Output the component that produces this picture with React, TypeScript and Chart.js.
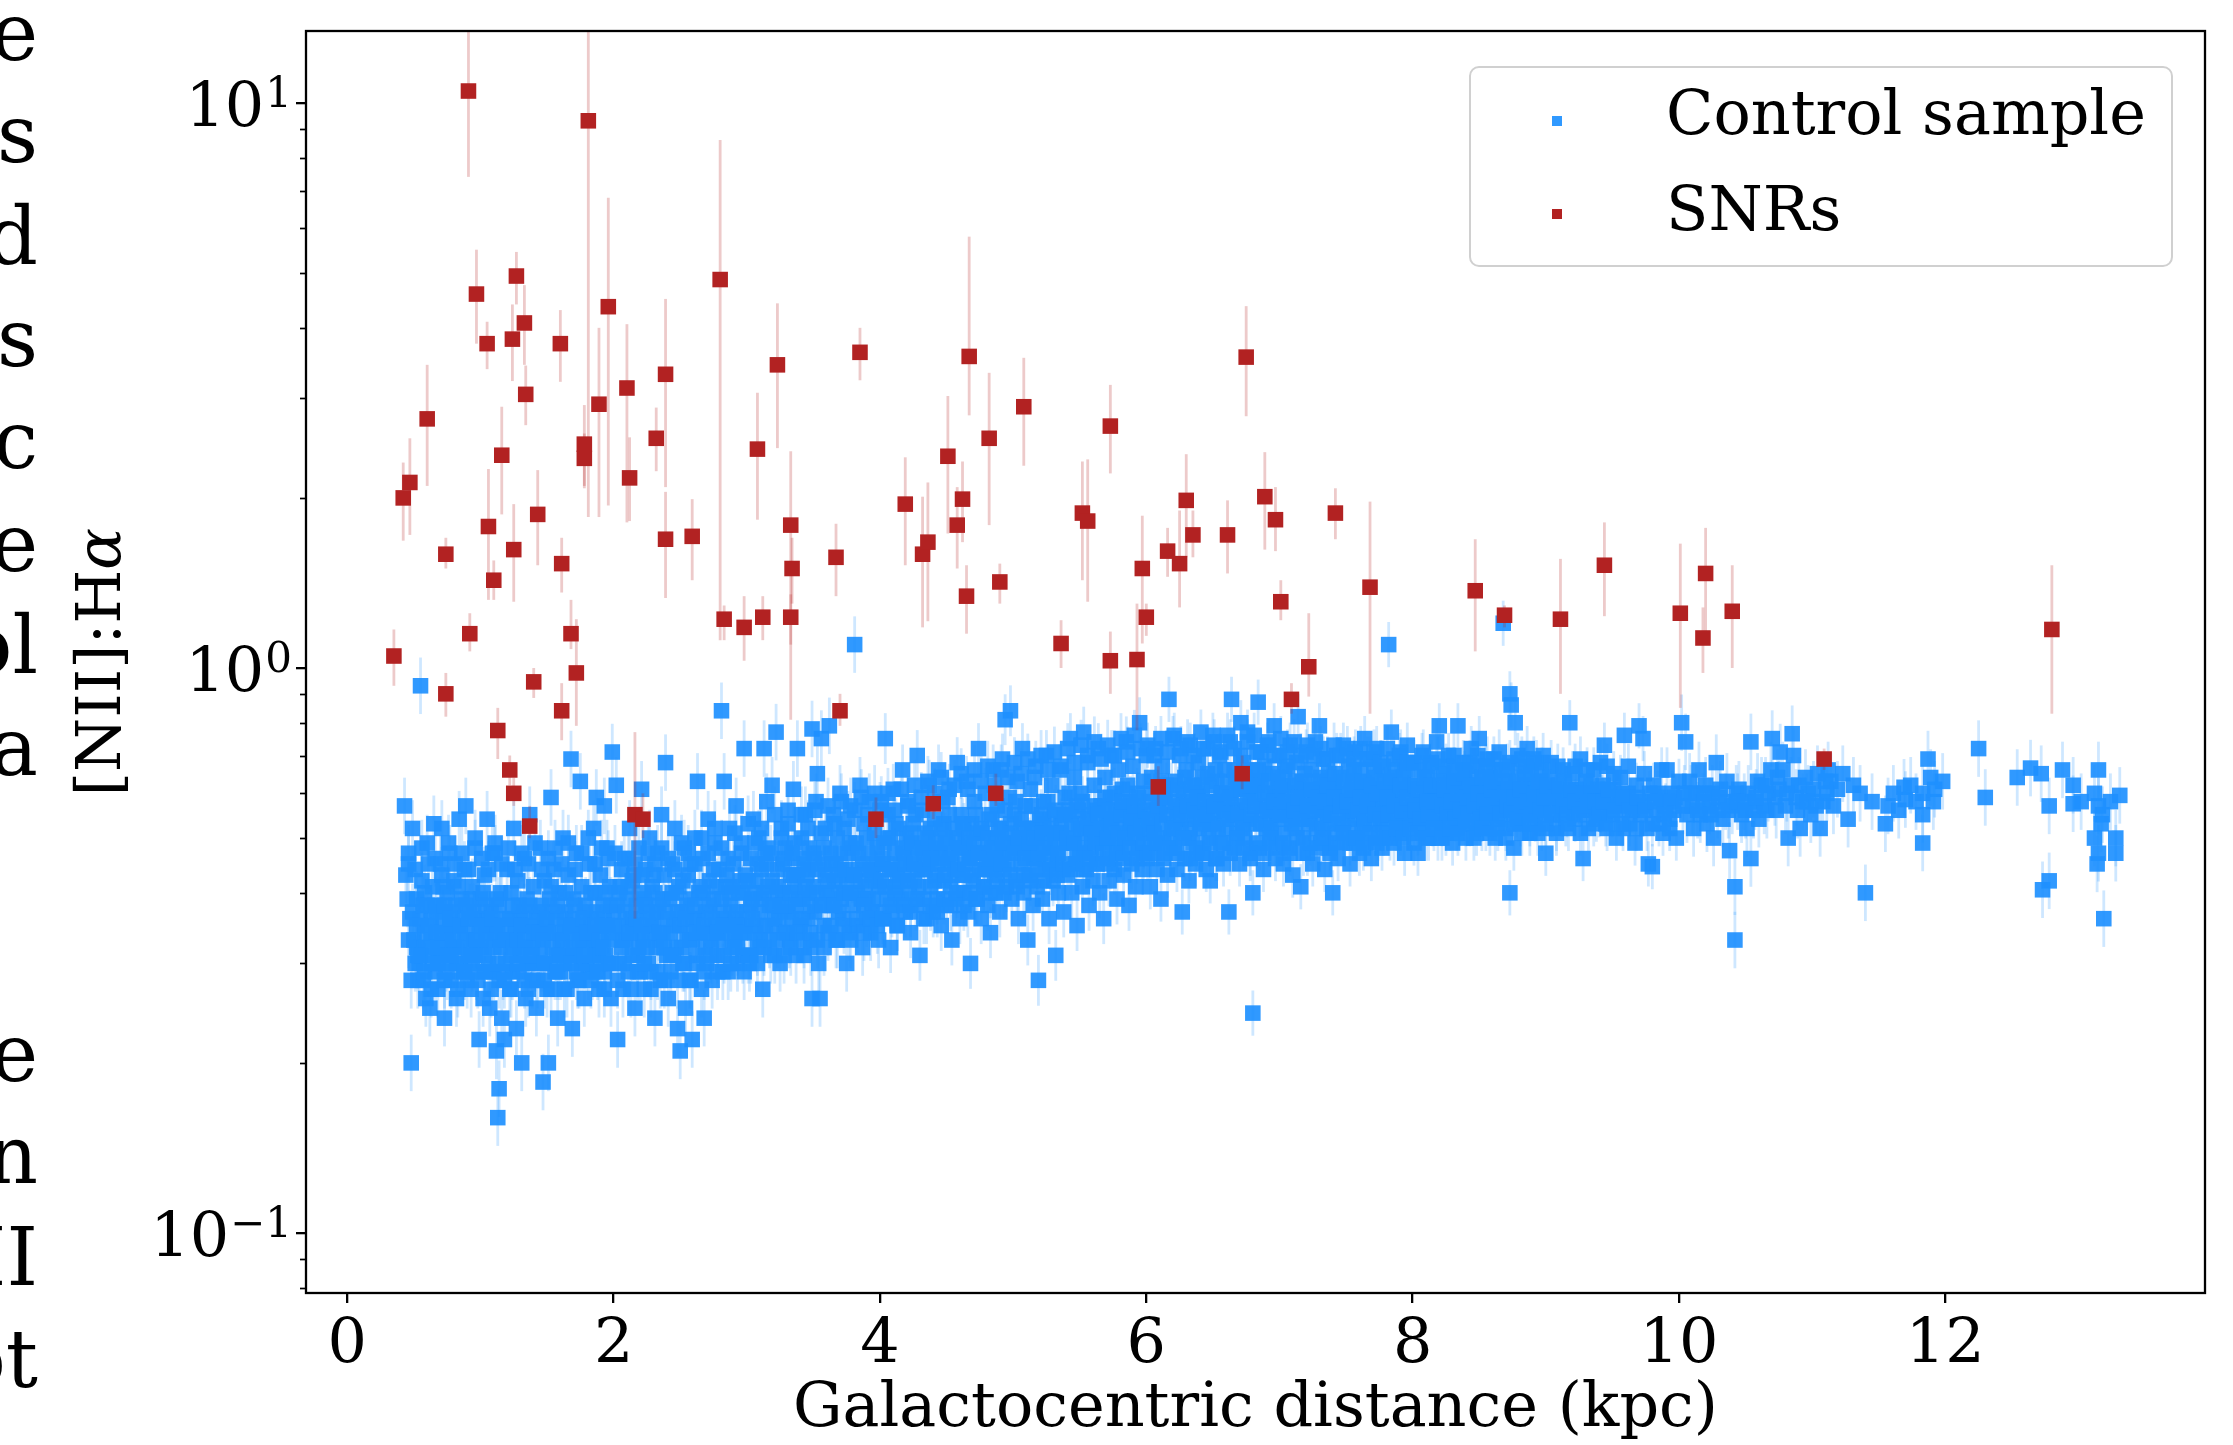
import React, { useEffect, useRef } from "react";
import { Chart, registerables } from "chart.js";
Chart.register(...registerables);

const FONT = "'DejaVu Serif', serif";

// axes
const X_MIN = -0.31;
const X_MAX = 13.95;
const Y_MIN = 0.0783;
const Y_MAX = 13.41;
const xTickValues = [0, 2, 4, 6, 8, 10, 12];
const yTickValues = [0.1, 1, 10];
const yTickExponents = ["−1", "0", "1"];
const yMinorValues = [0.08, 0.09, 0.2, 0.3, 0.4, 0.5, 0.6, 0.7, 0.8, 0.9, 2, 3, 4, 5, 6, 7, 8, 9];
const xTitle = "Galactocentric distance (kpc)";
const yTitleMain = "[NII]:H";
const yTitleGreek = "α";
const legendLabels = ["Control sample", "SNRs"];

// cropped page text at the left edge
const pageLines = ["where", "SNRs", "and", "regions", "Galactic", "the", "control", "data", "", "", "see", "in", "NII", "plot"];

// SNRs
const snrX = [0.35,0.42,0.47,0.60,0.74,0.74,0.91,0.92,0.97,1.05,1.06,1.10,1.13,1.16,1.22,1.24,1.25,1.25,1.27,1.33,1.34,1.37,1.40,1.43,1.60,1.61,1.61,1.68,1.72,1.78,1.78,1.81,1.89,1.96,2.10,2.12,2.16,2.22,2.32,2.39,2.39,2.59,2.80,2.83,2.98,3.08,3.12,3.23,3.33,3.34,3.33,3.67,3.70,3.85,3.97,4.19,4.32,4.36,4.40,4.51,4.58,4.62,4.65,4.67,4.82,4.87,4.90,5.08,5.36,5.52,5.56,5.73,5.73,5.93,5.97,6.00,6.09,6.16,6.25,6.30,6.35,6.61,6.72,6.75,6.89,6.97,7.01,7.09,7.22,7.42,7.68,8.47,8.69,9.11,9.44,10.01,10.18,10.20,10.40,11.09,12.80];
const snrY = [1.05,2.00,2.13,2.76,1.59,0.90,10.5,1.15,4.59,3.75,1.78,1.43,0.775,2.38,0.66,3.82,1.62,0.60,4.94,4.08,3.05,0.525,0.945,1.87,3.75,1.53,0.84,1.15,0.98,2.49,2.35,9.3,2.93,4.36,3.13,2.17,0.55,0.54,2.55,3.31,1.69,1.71,4.87,1.22,1.18,2.44,1.23,3.44,1.79,1.50,1.23,1.57,0.84,3.62,0.54,1.95,1.59,1.67,0.575,2.37,1.79,1.99,1.34,3.56,2.55,0.60,1.42,2.90,1.105,1.88,1.82,2.68,1.03,1.035,1.50,1.23,0.616,1.61,1.53,1.98,1.72,1.72,0.65,3.55,2.01,1.83,1.31,0.88,1.005,1.88,1.39,1.37,1.24,1.22,1.52,1.25,1.13,1.47,1.26,0.69,1.17];
const snrLo = [0.93,1.68,1.72,2.10,1.50,0.82,7.4,1.07,3.75,3.38,1.32,1.32,0.69,1.87,0.62,3.22,1.31,0.57,4.4,3.44,2.69,0.50,0.885,1.52,3.21,1.36,0.745,1.08,0.79,2.08,2.1,1.85,1.85,1.94,1.81,1.82,0.36,0.50,2.23,2.09,1.33,1.43,1.12,1.12,1.03,1.83,1.12,2.45,0.81,1.30,1.10,1.34,0.79,3.23,0.50,1.52,1.18,1.21,0.54,1.73,1.50,1.67,1.15,2.8,1.79,0.57,1.30,2.28,1.0,1.43,1.31,2.21,0.90,0.776,1.105,1.14,0.57,1.45,1.28,1.57,1.57,1.47,0.61,2.79,1.62,1.61,1.215,0.83,0.89,1.69,0.83,1.07,1.18,0.90,1.235,0.85,0.98,1.15,1.0,0.66,0.83];
const snrHi = [1.17,2.31,2.55,3.44,1.70,0.98,16,1.25,5.5,4.1,2.25,1.55,0.85,2.9,0.70,4.4,1.95,0.64,5.45,4.76,3.43,0.57,1.0,2.24,4.3,1.70,0.94,1.32,1.22,2.92,2.6,16,4.0,6.8,4.06,2.56,0.77,0.60,2.89,4.5,2.05,1.99,8.6,1.29,1.34,3.07,1.34,4.42,2.42,1.70,1.35,1.80,0.90,4.0,0.59,2.36,2.01,2.13,0.62,3.03,2.09,2.32,1.52,5.8,3.33,0.65,1.53,3.54,1.215,2.32,2.34,3.17,1.16,1.30,1.86,1.30,0.67,1.77,1.90,2.39,1.90,1.98,0.70,4.37,2.41,2.09,1.43,0.94,1.25,2.08,1.97,1.69,1.29,1.56,1.81,1.66,1.28,1.77,1.52,0.72,1.52];

// Control sample, [distance, ratio]
const ctrlA = [[0.43,0.57],[0.44,0.43],[0.45,0.39],[0.46,0.45],[0.47,0.36],[0.48,0.20],[0.49,0.52],[0.50,0.33],[0.51,0.30],[0.52,0.39],[0.52,0.32],[0.53,0.28],[0.55,0.93],[0.55,0.36],[0.56,0.42],[0.57,0.28],[0.58,0.34],[0.59,0.26],[0.60,0.49],[0.60,0.38],
[0.62,0.25],[0.62,0.31],[0.63,0.36],[0.64,0.41],[0.65,0.53],[0.66,0.29],[0.67,0.34],[0.68,0.27],[0.69,0.38],[0.70,0.45],[0.70,0.32],[0.71,0.52],[0.72,0.36],[0.73,0.24],[0.74,0.30],[0.75,0.40],[0.76,0.34],[0.77,0.47],[0.78,0.28],[0.79,0.37],[0.80,0.32],[0.80,0.42],
[0.82,0.26],[0.83,0.35],[0.84,0.54],[0.85,0.30],[0.86,0.39],[0.87,0.29],[0.88,0.44],[0.89,0.57],[0.90,0.34],[0.91,0.31],[0.92,0.37],[0.93,0.27],[0.94,0.41],[0.95,0.33],[0.96,0.48],[0.97,0.29],[0.98,0.36],[0.99,0.22],[1.00,0.32],[1.00,0.39],
[1.02,0.26],[1.03,0.43],[1.04,0.34],[1.05,0.54],[1.06,0.30],[1.07,0.25],[1.08,0.37],[1.09,0.47],[1.10,0.32],[1.11,0.49],[1.12,0.21],[1.13,0.16],[1.13,0.35],[1.14,0.18],[1.14,0.28],[1.15,0.40],[1.16,0.24],[1.17,0.33],[1.18,0.22],[1.19,0.30],[1.20,0.44],[1.20,0.36],
[1.22,0.27],[1.23,0.31],[1.24,0.38],[1.25,0.52],[1.26,0.34],[1.27,0.23],[1.28,0.42],[1.29,0.29],[1.30,0.36],[1.31,0.20],[1.32,0.32],[1.33,0.46],[1.34,0.26],[1.35,0.39],[1.36,0.30],[1.37,0.55],[1.38,0.35],[1.39,0.28],[1.40,0.41],
[1.42,0.25],[1.43,0.33],[1.44,0.37],[1.45,0.48],[1.46,0.30],[1.47,0.185],[1.48,0.42],[1.49,0.35],[1.50,0.27],[1.51,0.20],[1.52,0.39],[1.53,0.59],[1.54,0.32],[1.55,0.44],[1.56,0.29],[1.57,0.36],[1.58,0.24],[1.59,0.40],[1.60,0.33],
[1.62,0.50],[1.63,0.30],[1.64,0.37],[1.65,0.27],[1.66,0.43],[1.67,0.34],[1.68,0.69],[1.69,0.23],[1.70,0.39],[1.71,0.31],[1.72,0.47],[1.73,0.35],[1.74,0.28],[1.75,0.63],[1.76,0.41],[1.77,0.33],[1.78,0.26],[1.79,0.38],[1.80,0.30],
[1.81,0.33],[1.82,0.45],[1.83,0.36],[1.84,0.29],[1.85,0.52],[1.86,0.40],[1.87,0.59],[1.88,0.31],[1.89,0.27],[1.90,0.43],[1.91,0.35],[1.92,0.38],[1.93,0.57],[1.93,0.29],[1.94,0.31],[1.95,0.48],[1.96,0.34],[1.97,0.41],[1.98,0.26],[1.99,0.71],[2.00,0.37],
[0.55,0.31],[0.58,0.40],[0.63,0.33],[0.66,0.38],[0.69,0.31],[0.72,0.41],[0.75,0.29],[0.78,0.35],[0.81,0.38],[0.84,0.32],[0.87,0.36],[0.90,0.28],[0.93,0.39],[0.96,0.31],[0.99,0.35],[1.02,0.40],[1.05,0.36],[1.08,0.29],[1.11,0.34],[1.14,0.38],[1.17,0.29],[1.21,0.33],[1.24,0.29],[1.27,0.35],[1.30,0.31],[1.33,0.37],[1.36,0.27],[1.39,0.32],[1.42,0.36],[1.45,0.31],[1.48,0.28],[1.51,0.34],[1.54,0.37],[1.57,0.31],[1.60,0.29],[1.63,0.35],[1.66,0.31],[1.69,0.36],[1.72,0.29],[1.75,0.34],[1.78,0.37],[1.81,0.29],[1.84,0.34],[1.87,0.32],[1.90,0.30],[1.93,0.36],[1.96,0.30],[1.99,0.33]];
const ctrlA2 = [[0.46,0.33],[0.49,0.37],[0.52,0.35],[0.54,0.30],[0.57,0.38],[0.59,0.32],[0.61,0.35],[0.64,0.30],[0.67,0.37],[0.68,0.32],[0.71,0.34],[0.73,0.38],[0.76,0.31],[0.77,0.36],[0.79,0.33],[0.82,0.30],[0.83,0.41],[0.85,0.35],[0.88,0.33],[0.89,0.38],[0.91,0.36],[0.94,0.30],[0.95,0.37],[0.97,0.33],[1.01,0.35],[1.03,0.31],[1.04,0.38],[1.07,0.33],[1.09,0.36],[1.10,0.29],[1.12,0.39],[1.15,0.32],[1.16,0.35],[1.19,0.33],[1.22,0.36],[1.23,0.40],[1.25,0.32],[1.28,0.33],[1.29,0.38],[1.31,0.35],[1.34,0.33],[1.35,0.30],[1.37,0.38],[1.40,0.34],[1.41,0.30],[1.44,0.34],[1.46,0.38],[1.47,0.33],[1.50,0.36],[1.52,0.30],[1.53,0.41],[1.56,0.34],[1.58,0.38],[1.59,0.31],[1.62,0.33],[1.64,0.40],[1.65,0.31],[1.68,0.35],[1.70,0.32],[1.71,0.38],[1.74,0.33],[1.76,0.30],[1.77,0.36],[1.80,0.34],[1.82,0.31],[1.83,0.40],[1.86,0.35],[1.88,0.37],[1.89,0.33],[1.92,0.32],[1.94,0.40],[1.95,0.35],[1.98,0.38]];
const ctrlA3 = [[0.46,0.47],[0.48,0.28],[0.51,0.44],[0.53,0.31],[0.56,0.48],[0.58,0.29],[0.61,0.45],[0.63,0.27],[0.66,0.46],[0.68,0.30],[0.71,0.43],[0.73,0.28],[0.76,0.49],[0.78,0.31],[0.81,0.45],[0.83,0.27],[0.86,0.47],[0.88,0.29],[0.91,0.44],[0.93,0.31],[0.96,0.50],[0.98,0.28],[1.01,0.46],[1.03,0.29],[1.06,0.44],[1.08,0.27],[1.11,0.47],[1.13,0.30],[1.16,0.45],[1.18,0.28],[1.21,0.48],[1.23,0.27],[1.26,0.44],[1.28,0.30],[1.31,0.47],[1.33,0.28],[1.36,0.45],[1.38,0.31],[1.41,0.49],[1.43,0.28],[1.46,0.44],[1.48,0.30],[1.51,0.46],[1.53,0.27],[1.56,0.48],[1.58,0.29],[1.61,0.45],[1.63,0.27],[1.66,0.49],[1.68,0.30],[1.71,0.44],[1.73,0.28],[1.76,0.47],[1.78,0.31],[1.81,0.50],[1.83,0.28],[1.86,0.45],[1.88,0.29],[1.91,0.48],[1.93,0.27],[1.96,0.46],[1.98,0.30]];

const ctrlB = [[2.02,0.62],[2.03,0.22],[2.04,0.30],[2.05,0.41],[2.06,0.35],[2.07,0.27],[2.08,0.46],[2.09,0.33],[2.10,0.39],[2.11,0.29],[2.12,0.52],[2.13,0.36],[2.14,0.31],[2.15,0.43],[2.16,0.25],[2.17,0.38],[2.18,0.34],[2.19,0.48],[2.20,0.29],[2.20,0.40],
[2.21,0.61],[2.22,0.33],[2.23,0.27],[2.24,0.44],[2.25,0.37],[2.26,0.30],[2.27,0.50],[2.28,0.29],[2.29,0.41],[2.30,0.35],[2.31,0.24],[2.32,0.32],[2.33,0.47],[2.34,0.38],[2.35,0.28],[2.36,0.55],[2.37,0.34],[2.38,0.43],[2.39,0.68],[2.40,0.31],
[2.41,0.26],[2.42,0.39],[2.43,0.29],[2.44,0.45],[2.45,0.35],[2.46,0.52],[2.47,0.32],[2.48,0.23],[2.49,0.41],[2.50,0.21],[2.51,0.37],[2.52,0.30],[2.53,0.48],[2.54,0.25],[2.55,0.34],[2.56,0.43],[2.57,0.28],[2.58,0.39],[2.59,0.22],[2.60,0.36],
[2.61,0.50],[2.62,0.31],[2.63,0.63],[2.64,0.40],[2.65,0.34],[2.66,0.27],[2.67,0.46],[2.68,0.24],[2.69,0.37],[2.70,0.30],[2.71,0.54],[2.72,0.42],[2.73,0.33],[2.74,0.28],[2.75,0.39],[2.76,0.49],[2.77,0.35],[2.78,0.31],[2.79,0.44],[2.80,0.37],
[2.81,0.84],[2.82,0.29],[2.83,0.63],[2.84,0.41],[2.85,0.34],[2.86,0.29],[2.87,0.52],[2.88,0.38],[2.89,0.32],[2.90,0.45],[2.91,0.36],[2.92,0.57],[2.93,0.30],[2.94,0.40],[2.95,0.34],[2.96,0.49],[2.97,0.31],[2.98,0.72],[2.99,0.43],[3.00,0.37],
[3.01,0.31],[3.02,0.30],[3.03,0.46],[3.04,0.39],[3.05,0.54],[3.06,0.34],[3.07,0.42],[3.08,0.32],[3.09,0.50],[3.10,0.37],[3.11,0.44],[3.12,0.27],[3.13,0.72],[3.14,0.35],[3.15,0.58],[3.16,0.41],[3.17,0.33],[3.18,0.47],[3.19,0.62],[3.20,0.38],
[3.21,0.31],[3.22,0.77],[3.23,0.44],[3.24,0.36],[3.25,0.30],[3.26,0.52],[3.27,0.40],[3.28,0.34],[3.29,0.48],[3.30,0.38],[3.31,0.56],[3.32,0.33],[3.33,0.43],[3.34,0.36],[3.35,0.61],[3.36,0.41],[3.37,0.31],[3.38,0.72],[3.39,0.46],[3.40,0.35],
[3.41,0.50],[3.42,0.39],[3.43,0.33],[3.44,0.55],[3.45,0.43],[3.46,0.36],[3.47,0.48],[3.48,0.32],[3.49,0.78],[3.49,0.26],[3.50,0.41],[3.51,0.37],[3.52,0.58],[3.53,0.65],[3.54,0.30],[3.55,0.26],[3.56,0.75],[3.57,0.45],[3.58,0.35],[3.59,0.52],[3.60,0.40],
[3.61,0.34],[3.62,0.79],[3.63,0.47],[3.64,0.38],[3.65,0.55],[3.66,0.42],[3.67,0.33],[3.68,0.50],[3.69,0.37],[3.70,0.60],[3.71,0.44],[3.72,0.36],[3.73,0.52],[3.74,0.40],[3.75,0.30],[3.76,0.47],[3.77,0.34],[3.78,0.57],[3.79,0.43],[3.80,0.38],
[3.81,1.10],[3.82,0.49],[3.83,0.35],[3.84,0.44],[3.85,0.62],[3.86,0.39],[3.87,0.32],[3.88,0.53],[3.89,0.41],[3.90,0.36],[3.91,0.47],[3.92,0.58],[3.93,0.34],[3.94,0.43],[3.95,0.39],[3.96,0.51],[3.97,0.37],[3.98,0.45],[3.99,0.33],[4.00,0.56],
[2.03,0.38],[2.07,0.33],[2.11,0.41],[2.15,0.35],[2.19,0.32],[2.23,0.39],[2.27,0.34],[2.31,0.40],[2.35,0.33],[2.39,0.37],[2.43,0.34],[2.47,0.40],[2.51,0.32],[2.55,0.38],[2.59,0.33],[2.63,0.36],[2.67,0.40],[2.71,0.34],[2.75,0.44],[2.79,0.33],[2.83,0.36],[2.87,0.40],[2.91,0.33],[2.95,0.42],[2.99,0.35],[3.03,0.38],[3.07,0.35],[3.11,0.39],[3.15,0.45],[3.19,0.35],[3.23,0.40],[3.27,0.45],[3.31,0.37],[3.35,0.43],[3.39,0.39],[3.43,0.45],[3.47,0.40],[3.51,0.46],[3.55,0.38],[3.59,0.43],[3.63,0.40],[3.67,0.45],[3.71,0.39],[3.75,0.42],[3.79,0.48],[3.83,0.40],[3.87,0.45],[3.91,0.39],[3.95,0.44],[3.99,0.41]];
const ctrlB2 = [[2.01,0.35],[2.04,0.40],[2.06,0.32],[2.09,0.37],[2.12,0.34],[2.14,0.42],[2.17,0.36],[2.18,0.31],[2.21,0.35],[2.24,0.38],[2.25,0.32],[2.28,0.36],[2.30,0.43],[2.32,0.37],[2.34,0.34],[2.37,0.39],[2.38,0.32],[2.41,0.36],[2.44,0.40],[2.45,0.31],[2.48,0.37],[2.50,0.35],[2.52,0.42],[2.54,0.36],[2.57,0.33],[2.58,0.45],[2.61,0.38],[2.62,0.34],[2.65,0.41],[2.68,0.35],[2.69,0.32],[2.72,0.38],[2.74,0.36],[2.77,0.41],[2.78,0.34],[2.81,0.39],[2.82,0.35],[2.85,0.43],[2.88,0.35],[2.89,0.41],[2.92,0.37],[2.94,0.35],[2.97,0.40],[2.98,0.34],[3.01,0.42],[3.04,0.36],[3.06,0.40],[3.08,0.45],[3.10,0.33],[3.13,0.40],[3.14,0.47],[3.17,0.38],[3.19,0.42],[3.21,0.36],[3.24,0.41],[3.26,0.38],[3.28,0.46],[3.30,0.34],[3.33,0.40],[3.34,0.47],[3.37,0.38],[3.38,0.43],[3.41,0.36],[3.44,0.41],[3.46,0.44],[3.48,0.38],[3.50,0.47],[3.53,0.40],[3.54,0.44],[3.57,0.38],[3.58,0.48],[3.61,0.42],[3.64,0.45],[3.66,0.38],[3.68,0.43],[3.70,0.47],[3.73,0.40],[3.74,0.44],[3.77,0.49],[3.78,0.40],[3.81,0.43],[3.84,0.47],[3.86,0.42],[3.88,0.38],[3.90,0.50],[3.93,0.44],[3.94,0.37],[3.97,0.42],[3.98,0.48]];
const ctrlB3 = [[2.01,0.47],[2.03,0.28],[2.06,0.44],[2.08,0.30],[2.11,0.46],[2.13,0.27],[2.16,0.45],[2.18,0.29],[2.21,0.43],[2.23,0.30],[2.26,0.47],[2.28,0.27],[2.31,0.45],[2.33,0.29],[2.36,0.48],[2.38,0.28],[2.41,0.46],[2.43,0.31],[2.46,0.44],[2.48,0.28],[2.51,0.49],[2.53,0.30],[2.56,0.47],[2.58,0.28],[2.61,0.45],[2.63,0.30],[2.66,0.50],[2.68,0.29],[2.71,0.47],[2.73,0.31],[2.76,0.52],[2.78,0.29],[2.81,0.48],[2.83,0.31],[2.86,0.46],[2.88,0.30],[2.91,0.51],[2.93,0.32],[2.96,0.47],[2.98,0.29],[3.01,0.53],[3.03,0.31],[3.06,0.49],[3.08,0.30],[3.11,0.52],[3.13,0.32],[3.16,0.48],[3.18,0.31],[3.21,0.55],[3.23,0.33],[3.26,0.50],[3.28,0.31],[3.31,0.53],[3.33,0.32],[3.36,0.49],[3.38,0.34],[3.41,0.55],[3.43,0.31],[3.46,0.52],[3.48,0.34],[3.51,0.56],[3.53,0.33],[3.56,0.51],[3.58,0.32],[3.61,0.57],[3.63,0.35],[3.66,0.53],[3.68,0.33],[3.71,0.58],[3.73,0.35],[3.76,0.54],[3.78,0.33],[3.81,0.56],[3.83,0.36],[3.86,0.59],[3.88,0.34],[3.91,0.55],[3.93,0.36],[3.96,0.60],[3.98,0.35]];

const ctrlC = [[4.01,0.42],[4.02,0.36],[4.03,0.49],[4.04,0.75],[4.05,0.39],[4.06,0.55],[4.07,0.44],[4.08,0.32],[4.09,0.37],[4.10,0.61],[4.11,0.47],[4.12,0.41],[4.13,0.35],[4.14,0.52],[4.15,0.45],[4.16,0.39],[4.17,0.66],[4.18,0.43],[4.19,0.37],[4.20,0.50],
[4.21,0.58],[4.22,0.40],[4.23,0.34],[4.24,0.46],[4.25,0.53],[4.26,0.42],[4.27,0.38],[4.28,0.70],[4.29,0.48],[4.30,0.31],[4.31,0.44],[4.32,0.56],[4.33,0.39],[4.34,0.51],[4.35,0.36],[4.36,0.45],[4.37,0.62],[4.38,0.41],[4.39,0.48],[4.40,0.37],
[4.41,0.54],[4.42,0.43],[4.43,0.39],[4.44,0.66],[4.45,0.47],[4.46,0.35],[4.47,0.58],[4.48,0.42],[4.49,0.50],[4.50,0.38],[4.51,0.45],[4.52,0.61],[4.53,0.41],[4.54,0.33],[4.55,0.52],[4.56,0.44],[4.57,0.39],[4.58,0.68],[4.59,0.48],[4.60,0.36],
[4.61,0.55],[4.62,0.43],[4.63,0.40],[4.64,0.49],[4.65,0.63],[4.66,0.37],[4.67,0.46],[4.68,0.30],[4.69,0.53],[4.70,0.42],[4.71,0.58],[4.72,0.39],[4.73,0.47],[4.74,0.72],[4.75,0.44],[4.76,0.36],[4.77,0.51],[4.78,0.41],[4.79,0.60],[4.80,0.45],
[4.81,0.38],[4.82,0.54],[4.83,0.34],[4.84,0.48],[4.85,0.66],[4.86,0.43],[4.87,0.40],[4.88,0.57],[4.89,0.46],[4.90,0.37],[4.91,0.52],[4.92,0.69],[4.93,0.44],[4.94,0.81],[4.95,0.41],[4.96,0.49],[4.97,0.59],[4.98,0.84],[4.99,0.39],[5.00,0.47],
[5.01,0.55],[5.02,0.42],[5.03,0.63],[5.04,0.36],[5.05,0.50],[5.06,0.45],[5.07,0.72],[5.08,0.40],[5.09,0.57],[5.10,0.48],[5.11,0.33],[5.12,0.43],[5.13,0.61],[5.14,0.52],[5.15,0.38],[5.16,0.46],[5.17,0.67],[5.18,0.41],[5.19,0.28],[5.20,0.54],
[5.21,0.47],[5.22,0.39],[5.23,0.58],[5.24,0.44],[5.25,0.70],[5.26,0.51],[5.27,0.36],[5.28,0.48],[5.29,0.62],[5.30,0.42],[5.31,0.55],[5.32,0.31],[5.33,0.46],[5.34,0.40],[5.35,0.66],[5.36,0.53],[5.37,0.44],[5.38,0.37],[5.39,0.59],[5.40,0.49],
[5.41,0.43],[5.42,0.56],[5.43,0.75],[5.44,0.40],[5.45,0.50],[5.46,0.64],[5.47,0.45],[5.48,0.35],[5.49,0.53],[5.50,0.47],[5.51,0.60],[5.52,0.41],[5.53,0.77],[5.54,0.51],[5.55,0.44],[5.56,0.68],[5.57,0.38],[5.58,0.55],[5.59,0.48],[5.60,0.42],
[5.61,0.62],[5.62,0.52],[5.63,0.45],[5.64,0.72],[5.65,0.40],[5.66,0.57],[5.67,0.49],[5.68,0.36],[5.69,0.64],[5.70,0.54],[5.71,0.46],[5.72,0.42],[5.73,0.59],[5.74,0.70],[5.75,0.50],[5.76,0.44],[5.77,0.56],[5.78,0.39],[5.79,0.66],[5.80,0.52],
[5.81,0.47],[5.82,0.61],[5.83,0.43],[5.84,0.55],[5.85,0.74],[5.86,0.50],[5.87,0.38],[5.88,0.58],[5.89,0.45],[5.90,0.67],[5.91,0.52],[5.92,0.41],[5.93,0.60],[5.94,0.48],[5.95,0.80],[5.96,0.55],[5.97,0.44],[5.98,0.63],[5.99,0.51],[6.00,0.70],
[4.03,0.45],[4.08,0.50],[4.13,0.43],[4.18,0.47],[4.23,0.51],[4.28,0.44],[4.33,0.47],[4.38,0.52],[4.43,0.46],[4.48,0.53],[4.53,0.47],[4.58,0.43],[4.63,0.52],[4.68,0.46],[4.73,0.51],[4.78,0.47],[4.83,0.44],[4.88,0.50],[4.93,0.47],[4.98,0.53],[5.03,0.48],[5.08,0.52],[5.13,0.47],[5.18,0.50],[5.23,0.53],[5.28,0.45],[5.33,0.51],[5.38,0.55],[5.43,0.49],[5.48,0.57],[5.53,0.47],[5.58,0.52],[5.63,0.56],[5.68,0.50],[5.73,0.53],[5.78,0.48],[5.83,0.57],[5.88,0.52],[5.93,0.55],[5.98,0.47]];
const ctrlC2 = [[4.02,0.46],[4.04,0.41],[4.06,0.50],[4.09,0.44],[4.11,0.40],[4.12,0.53],[4.15,0.42],[4.17,0.48],[4.19,0.45],[4.21,0.42],[4.24,0.49],[4.26,0.45],[4.27,0.55],[4.29,0.41],[4.32,0.48],[4.34,0.44],[4.36,0.50],[4.38,0.46],[4.41,0.42],[4.42,0.49],[4.44,0.45],[4.46,0.52],[4.49,0.43],[4.51,0.49],[4.52,0.55],[4.54,0.46],[4.57,0.50],[4.59,0.44],[4.61,0.48],[4.62,0.53],[4.64,0.45],[4.67,0.50],[4.69,0.43],[4.71,0.49],[4.72,0.55],[4.74,0.47],[4.76,0.52],[4.79,0.44],[4.81,0.50],[4.82,0.46],[4.84,0.55],[4.86,0.48],[4.89,0.52],[4.91,0.45],[4.92,0.49],[4.94,0.56],[4.96,0.45],[4.99,0.51],[5.01,0.48],[5.02,0.58],[5.04,0.50],[5.06,0.54],[5.09,0.46],[5.11,0.52],[5.12,0.49],[5.14,0.57],[5.16,0.50],[5.19,0.46],[5.21,0.55],[5.22,0.51],[5.24,0.48],[5.26,0.58],[5.29,0.52],[5.31,0.49],[5.32,0.56],[5.34,0.47],[5.36,0.51],[5.39,0.55],[5.41,0.50],[5.42,0.60],[5.44,0.53],[5.46,0.49],[5.49,0.56],[5.51,0.52],[5.52,0.58],[5.54,0.48],[5.56,0.54],[5.59,0.51],[5.61,0.57],[5.62,0.49],[5.64,0.55],[5.66,0.52],[5.69,0.59],[5.71,0.50],[5.72,0.56],[5.74,0.53],[5.76,0.60],[5.79,0.51],[5.81,0.55],[5.82,0.58],[5.84,0.50],[5.86,0.62],[5.89,0.54],[5.91,0.57],[5.92,0.51],[5.94,0.59],[5.96,0.53],[5.99,0.56]];
const ctrlC3 = [[4.01,0.58],[4.03,0.36],[4.06,0.60],[4.08,0.38],[4.11,0.56],[4.13,0.35],[4.16,0.61],[4.18,0.38],[4.21,0.57],[4.23,0.37],[4.26,0.62],[4.28,0.39],[4.31,0.59],[4.33,0.36],[4.36,0.63],[4.38,0.38],[4.41,0.60],[4.43,0.37],[4.46,0.64],[4.48,0.39],[4.51,0.59],[4.53,0.38],[4.56,0.62],[4.58,0.40],[4.61,0.65],[4.63,0.38],[4.66,0.61],[4.68,0.40],[4.71,0.66],[4.73,0.39],[4.76,0.63],[4.78,0.41],[4.81,0.67],[4.83,0.40],[4.86,0.62],[4.88,0.42],[4.91,0.66],[4.93,0.40],[4.96,0.64],[4.98,0.43],[5.01,0.68],[5.03,0.41],[5.06,0.65],[5.08,0.43],[5.11,0.69],[5.13,0.42],[5.16,0.64],[5.18,0.44],[5.21,0.70],[5.23,0.42],[5.26,0.66],[5.28,0.44],[5.31,0.71],[5.33,0.43],[5.36,0.67],[5.38,0.45],[5.41,0.72],[5.43,0.44],[5.46,0.68],[5.48,0.46],[5.51,0.73],[5.53,0.44],[5.56,0.70],[5.58,0.46],[5.61,0.74],[5.63,0.45],[5.66,0.69],[5.68,0.47],[5.71,0.73],[5.73,0.45],[5.76,0.70],[5.78,0.47],[5.81,0.75],[5.83,0.46],[5.86,0.71],[5.88,0.48],[5.91,0.76],[5.93,0.46],[5.96,0.72],[5.98,0.49]];

const ctrlD = [[6.01,0.46],[6.02,0.58],[6.03,0.41],[6.04,0.64],[6.05,0.53],[6.06,0.49],[6.07,0.72],[6.08,0.44],[6.09,0.60],[6.10,0.55],[6.11,0.39],[6.12,0.67],[6.13,0.50],[6.14,0.47],[6.15,0.62],[6.16,0.43],[6.17,0.88],[6.18,0.57],[6.19,0.52],[6.20,0.75],
[6.21,0.48],[6.22,0.63],[6.23,0.44],[6.24,0.56],[6.25,0.70],[6.26,0.51],[6.27,0.37],[6.28,0.60],[6.29,0.46],[6.30,0.66],[6.31,0.54],[6.32,0.42],[6.33,0.73],[6.34,0.58],[6.35,0.49],[6.36,0.62],[6.37,0.45],[6.38,0.55],[6.39,0.68],[6.40,0.52],
[6.41,0.47],[6.42,0.61],[6.43,0.72],[6.44,0.54],[6.45,0.44],[6.46,0.65],[6.47,0.50],[6.48,0.42],[6.49,0.58],[6.50,0.76],[6.51,0.53],[6.52,0.46],[6.53,0.63],[6.54,0.56],[6.55,0.70],[6.56,0.49],[6.57,0.60],[6.58,0.45],[6.59,0.66],[6.60,0.52],
[6.61,0.58],[6.62,0.37],[6.63,0.74],[6.64,0.88],[6.65,0.55],[6.66,0.48],[6.67,0.64],[6.68,0.51],[6.69,0.61],[6.70,0.45],[6.71,0.80],[6.72,0.57],[6.73,0.68],[6.74,0.50],[6.75,0.62],[6.76,0.77],[6.77,0.54],[6.78,0.47],[6.79,0.66],[6.80,0.40],
[6.80,0.245],[6.81,0.59],[6.82,0.53],[6.83,0.71],[6.84,0.87],[6.85,0.48],[6.86,0.63],[6.87,0.56],[6.88,0.44],[6.89,0.67],[6.90,0.52],[6.91,0.60],[6.92,0.74],[6.93,0.49],[6.94,0.57],[6.95,0.65],[6.96,0.79],[6.97,0.46],[6.98,0.55],[6.99,0.61],[7.00,0.70],
[7.01,0.51],[7.02,0.58],[7.03,0.45],[7.04,0.66],[7.05,0.54],[7.06,0.62],[7.07,0.48],[7.08,0.73],[7.09,0.57],[7.10,0.43],[7.11,0.60],[7.12,0.52],[7.13,0.68],[7.14,0.82],[7.15,0.55],[7.16,0.41],[7.17,0.63],[7.18,0.50],[7.19,0.58],[7.20,0.71],
[7.21,0.47],[7.22,0.61],[7.23,0.54],[7.24,0.66],[7.25,0.45],[7.26,0.58],[7.27,0.74],[7.28,0.52],[7.29,0.63],[7.30,0.79],[7.31,0.49],[7.32,0.56],[7.33,0.69],[7.34,0.44],[7.35,0.60],[7.36,0.53],[7.37,0.65],[7.38,0.48],[7.39,0.57],[7.40,0.40],
[7.41,0.62],[7.42,0.51],[7.43,0.70],[7.44,0.46],[7.45,0.58],[7.46,0.64],[7.47,0.53],[7.48,0.73],[7.49,0.49],[7.50,0.60],[7.51,0.55],[7.52,0.67],[7.53,0.45],[7.54,0.57],[7.55,0.63],[7.56,0.50],[7.57,0.71],[7.58,0.54],[7.59,0.60],[7.60,0.47],
[7.61,0.66],[7.62,0.52],[7.63,0.58],[7.64,0.75],[7.65,0.49],[7.66,0.62],[7.67,0.55],[7.68,0.69],[7.69,0.46],[7.70,0.59],[7.71,0.53],[7.72,0.64],[7.73,0.72],[7.74,0.50],[7.75,0.57],[7.76,0.61],[7.77,0.48],[7.78,0.67],[7.79,0.55],[7.80,0.60],
[7.81,0.52],[7.82,1.10],[7.83,0.63],[7.84,0.77],[7.85,0.57],[7.86,0.49],[7.87,0.66],[7.88,0.54],[7.89,0.60],[7.90,0.70],[7.91,0.51],[7.92,0.58],[7.93,0.64],[7.94,0.47],[7.95,0.55],[7.96,0.73],[7.97,0.61],[7.98,0.53],[7.99,0.68],[8.00,0.57],
[6.03,0.52],[6.08,0.56],[6.13,0.59],[6.18,0.50],[6.23,0.54],[6.28,0.57],[6.33,0.52],[6.38,0.60],[6.43,0.56],[6.48,0.53],[6.53,0.58],[6.58,0.55],[6.63,0.60],[6.68,0.56],[6.73,0.53],[6.78,0.59],[6.83,0.62],[6.88,0.57],[6.93,0.54],[6.98,0.59],[7.03,0.62],[7.08,0.55],[7.13,0.58],[7.18,0.61],[7.23,0.57],[7.28,0.60],[7.33,0.55],[7.38,0.61],[7.43,0.57],[7.48,0.60],[7.53,0.56],[7.58,0.62],[7.63,0.55],[7.68,0.59],[7.73,0.56],[7.78,0.61],[7.83,0.58],[7.88,0.61],[7.93,0.56],[7.98,0.62]];
const ctrlD2 = [[6.02,0.54],[6.04,0.60],[6.06,0.51],[6.09,0.57],[6.11,0.63],[6.12,0.53],[6.14,0.59],[6.16,0.55],[6.19,0.62],[6.21,0.52],[6.22,0.58],[6.24,0.61],[6.26,0.55],[6.29,0.64],[6.31,0.57],[6.32,0.50],[6.34,0.62],[6.36,0.56],[6.39,0.59],[6.41,0.53],[6.42,0.64],[6.44,0.58],[6.46,0.55],[6.49,0.62],[6.51,0.57],[6.52,0.66],[6.54,0.52],[6.56,0.60],[6.59,0.56],[6.61,0.63],[6.62,0.54],[6.64,0.59],[6.66,0.66],[6.69,0.55],[6.71,0.61],[6.72,0.52],[6.74,0.64],[6.76,0.58],[6.79,0.55],[6.81,0.62],[6.82,0.57],[6.84,0.66],[6.86,0.53],[6.89,0.60],[6.91,0.56],[6.92,0.63],[6.94,0.52],[6.96,0.58],[6.99,0.64],[7.01,0.55],[7.02,0.61],[7.04,0.58],[7.06,0.67],[7.09,0.53],[7.11,0.56],[7.12,0.63],[7.14,0.59],[7.16,0.54],[7.19,0.65],[7.21,0.57],[7.22,0.53],[7.24,0.61],[7.26,0.56],[7.29,0.59],[7.31,0.64],[7.32,0.52],[7.34,0.58],[7.36,0.62],[7.39,0.55],[7.41,0.59],[7.42,0.65],[7.44,0.54],[7.46,0.57],[7.49,0.63],[7.51,0.58],[7.52,0.52],[7.54,0.61],[7.56,0.66],[7.59,0.56],[7.61,0.59],[7.62,0.63],[7.64,0.53],[7.66,0.57],[7.69,0.62],[7.71,0.66],[7.72,0.55],[7.74,0.60],[7.76,0.54],[7.79,0.63],[7.81,0.59],[7.82,0.55],[7.84,0.64],[7.86,0.57],[7.89,0.53],[7.91,0.62],[7.92,0.56],[7.94,0.66],[7.96,0.59],[7.99,0.54]];
const ctrlD3 = [[6.01,0.73],[6.03,0.47],[6.06,0.70],[6.08,0.49],[6.11,0.75],[6.13,0.46],[6.16,0.71],[6.18,0.48],[6.21,0.76],[6.23,0.47],[6.26,0.72],[6.28,0.50],[6.31,0.74],[6.33,0.46],[6.36,0.70],[6.38,0.48],[6.41,0.77],[6.43,0.47],[6.46,0.72],[6.48,0.49],[6.51,0.74],[6.53,0.46],[6.56,0.71],[6.58,0.49],[6.61,0.76],[6.63,0.47],[6.66,0.72],[6.68,0.50],[6.71,0.70],[6.73,0.48],[6.76,0.74],[6.78,0.46],[6.81,0.76],[6.83,0.49],[6.86,0.71],[6.88,0.47],[6.91,0.73],[6.93,0.50],[6.96,0.70],[6.98,0.48],[7.01,0.75],[7.03,0.49],[7.06,0.71],[7.08,0.47],[7.11,0.74],[7.13,0.50],[7.16,0.70],[7.18,0.47],[7.21,0.73],[7.23,0.49],[7.26,0.70],[7.28,0.48],[7.31,0.72],[7.33,0.50],[7.36,0.69],[7.38,0.47],[7.41,0.73],[7.43,0.49],[7.46,0.70],[7.48,0.51],[7.51,0.72],[7.53,0.49],[7.56,0.69],[7.58,0.50],[7.61,0.72],[7.63,0.48],[7.66,0.69],[7.68,0.51],[7.71,0.71],[7.73,0.49],[7.76,0.68],[7.78,0.51],[7.81,0.72],[7.83,0.50],[7.86,0.69],[7.88,0.52],[7.91,0.71],[7.93,0.50],[7.96,0.68],[7.98,0.52]];

const ctrlE = [[8.01,0.49],[8.02,0.62],[8.03,0.55],[8.04,0.47],[8.05,0.66],[8.06,0.58],[8.07,0.52],[8.08,0.71],[8.09,0.60],[8.10,0.54],[8.11,0.64],[8.12,0.50],[8.13,0.57],[8.14,0.68],[8.15,0.53],[8.16,0.61],[8.17,0.56],[8.18,0.74],[8.19,0.50],[8.20,0.79],
[8.21,0.59],[8.22,0.53],[8.23,0.65],[8.24,0.57],[8.25,0.51],[8.26,0.62],[8.27,0.70],[8.28,0.55],[8.29,0.60],[8.30,0.49],[8.31,0.66],[8.32,0.56],[8.33,0.52],[8.34,0.79],[8.35,0.63],[8.36,0.58],[8.37,0.54],[8.38,0.68],[8.39,0.61],[8.40,0.50],
[8.41,0.57],[8.42,0.64],[8.43,0.53],[8.44,0.72],[8.45,0.59],[8.46,0.55],[8.47,0.62],[8.48,0.51],[8.49,0.67],[8.50,0.75],[8.51,0.58],[8.52,0.54],[8.53,0.63],[8.54,0.60],[8.55,0.52],[8.56,0.69],[8.57,0.57],[8.58,0.64],[8.59,0.55],[8.60,0.61],
[8.61,0.66],[8.62,0.50],[8.63,0.58],[8.64,0.54],[8.65,0.71],[8.66,0.60],[8.67,0.56],[8.68,1.20],[8.69,0.63],[8.70,0.52],[8.71,0.67],[8.72,0.57],[8.73,0.90],[8.73,0.40],[8.74,0.86],[8.75,0.61],[8.76,0.48],[8.77,0.80],[8.78,0.55],[8.79,0.64],[8.80,0.59],
[8.81,0.53],[8.82,0.69],[8.83,0.58],[8.84,0.62],[8.85,0.55],[8.86,0.72],[8.87,0.60],[8.88,0.51],[8.89,0.65],[8.90,0.57],[8.91,0.62],[8.92,0.54],[8.93,0.68],[8.94,0.59],[8.95,0.56],[8.96,0.63],[8.97,0.52],[8.98,0.70],[8.99,0.60],[9.00,0.47],
[9.02,0.58],[9.03,0.64],[9.05,0.55],[9.06,0.61],[9.08,0.52],[9.09,0.67],[9.11,0.59],[9.12,0.56],[9.14,0.63],[9.15,0.53],[9.17,0.60],[9.18,0.80],[9.19,0.57],[9.20,0.65],
[9.22,0.54],[9.23,0.61],[9.25,0.58],[9.26,0.69],[9.28,0.46],[9.29,0.56],[9.30,0.63],[9.32,0.52],[9.33,0.60],[9.35,0.57],[9.36,0.66],[9.38,0.54],[9.39,0.61],[9.40,0.58],
[9.41,0.56],[9.43,0.62],[9.44,0.73],[9.45,0.53],[9.46,0.67],[9.48,0.59],[9.50,0.55],[9.51,0.61],[9.53,0.50],[9.55,0.58],[9.56,0.64],[9.58,0.52],[9.59,0.76],[9.60,0.57],
[9.62,0.60],[9.63,0.53],[9.65,0.56],[9.67,0.49],[9.68,0.62],[9.70,0.79],[9.71,0.55],[9.73,0.75],[9.74,0.58],[9.76,0.52],[9.77,0.45],[9.78,0.60],[9.80,0.445],[9.81,0.62],
[9.83,0.56],[9.85,0.53],[9.86,0.59],[9.88,0.51],[9.90,0.57],[9.91,0.66],[9.93,0.54],[9.95,0.60],[9.96,0.56],[9.98,0.50],[10.00,0.63],
[8.03,0.58],[8.08,0.55],[8.13,0.60],[8.18,0.57],[8.23,0.59],[8.28,0.62],[8.33,0.58],[8.38,0.56],[8.43,0.60],[8.48,0.58],[8.53,0.57],[8.58,0.60],[8.63,0.61],[8.68,0.57],[8.73,0.59],[8.78,0.61],[8.83,0.56],[8.88,0.60],[8.93,0.58],[8.98,0.56],[9.04,0.60],[9.10,0.57],[9.16,0.59],[9.21,0.57],[9.27,0.59],[9.34,0.56],[9.42,0.59],[9.49,0.57],[9.57,0.60],[9.64,0.58],[9.72,0.57],[9.84,0.60],[9.94,0.58]];
const ctrlE2 = [[8.02,0.56],[8.04,0.61],[8.06,0.54],[8.09,0.64],[8.11,0.58],[8.12,0.55],[8.14,0.62],[8.16,0.58],[8.19,0.54],[8.21,0.63],[8.22,0.57],[8.24,0.61],[8.26,0.55],[8.29,0.58],[8.31,0.63],[8.32,0.54],[8.34,0.60],[8.36,0.56],[8.39,0.65],[8.41,0.59],[8.42,0.55],[8.44,0.62],[8.46,0.57],[8.49,0.60],[8.51,0.54],[8.52,0.64],[8.54,0.58],[8.56,0.55],[8.59,0.61],[8.61,0.57],[8.62,0.63],[8.64,0.59],[8.66,0.55],[8.69,0.60],[8.71,0.57],[8.72,0.63],[8.74,0.56],[8.76,0.59],[8.79,0.54],[8.81,0.61],[8.82,0.57],[8.84,0.65],[8.86,0.58],[8.89,0.55],[8.91,0.60],[8.92,0.57],[8.94,0.63],[8.96,0.56],[8.99,0.59],[9.01,0.62],[9.04,0.55],[9.07,0.59],[9.10,0.62],[9.13,0.57],[9.16,0.55],[9.19,0.61],[9.22,0.58],[9.25,0.55],[9.28,0.60],[9.31,0.57],[9.34,0.62],[9.37,0.58],[9.40,0.55],[9.43,0.58],[9.47,0.61],[9.52,0.56],[9.58,0.59],[9.63,0.56],[9.69,0.59],[9.75,0.56],[9.82,0.58],[9.89,0.55],[9.97,0.59]];
const ctrlE3 = [[8.01,0.68],[8.04,0.51],[8.07,0.70],[8.10,0.50],[8.13,0.67],[8.16,0.52],[8.19,0.69],[8.22,0.50],[8.25,0.67],[8.28,0.52],[8.31,0.70],[8.34,0.51],[8.37,0.66],[8.40,0.53],[8.43,0.68],[8.46,0.50],[8.49,0.70],[8.52,0.52],[8.55,0.67],[8.58,0.51],[8.61,0.69],[8.64,0.52],[8.67,0.66],[8.70,0.50],[8.73,0.68],[8.76,0.53],[8.79,0.70],[8.82,0.51],[8.85,0.67],[8.88,0.53],[8.91,0.69],[8.94,0.51],[8.97,0.66],[9.00,0.53],[9.04,0.68],[9.08,0.51],[9.13,0.66],[9.17,0.52],[9.22,0.67],[9.26,0.51],[9.31,0.66],[9.36,0.53],[9.41,0.68],[9.46,0.52],[9.51,0.65],[9.57,0.53],[9.62,0.67],[9.68,0.52],[9.74,0.65],[9.80,0.53],[9.87,0.66],[9.93,0.52]];

const ctrlF = [[10.02,0.80],[10.05,0.74],[10.04,0.60],[10.06,0.55],[10.08,0.63],[10.10,0.57],[10.11,0.52],[10.13,0.60],[10.15,0.66],[10.16,0.55],[10.18,0.58],[10.20,0.62],[10.21,0.53],[10.23,0.57],[10.25,0.60],[10.26,0.50],[10.28,0.68],[10.29,0.56],[10.31,0.61],[10.33,0.54],[10.35,0.58],[10.36,0.63],[10.38,0.475],[10.40,0.57],[10.42,0.41],[10.42,0.33],[10.43,0.60],[10.45,0.61],[10.47,0.55],[10.49,0.58],[10.51,0.52],[10.52,0.60],[10.54,0.74],[10.54,0.46],[10.56,0.56],[10.57,0.58],[10.59,0.63],[10.60,0.54],[10.62,0.62],[10.64,0.57],[10.66,0.56],[10.67,0.60],[10.69,0.66],[10.70,0.75],[10.72,0.59],[10.74,0.64],[10.75,0.61],[10.76,0.71],[10.78,0.66],[10.80,0.57],[10.82,0.50],[10.84,0.62],[10.85,0.765],[10.86,0.70],[10.88,0.59],[10.90,0.62],[10.91,0.52],[10.93,0.58],[10.95,0.64],[10.97,0.60],[10.99,0.55],[11.01,0.61],[11.04,0.65],[11.06,0.52],[11.08,0.58],[11.11,0.60],[11.12,0.66],[11.14,0.63],[11.16,0.57],[11.19,0.61],[11.23,0.65],[11.27,0.54],[11.31,0.62],[11.36,0.60],[11.40,0.40],[11.45,0.58],[11.55,0.53],[11.57,0.57],[11.61,0.60],[11.65,0.56],[11.69,0.615],[11.70,0.585],[11.74,0.62],[11.78,0.58],[11.83,0.60],[11.83,0.55],[11.83,0.49],[11.87,0.69],[11.89,0.64],[11.91,0.58],[11.92,0.61],[11.98,0.63],[12.25,0.72],[12.30,0.59],[12.54,0.64],[12.64,0.665],[12.72,0.65],[12.73,0.405],[12.78,0.57],[12.78,0.42],[12.88,0.66],[12.96,0.62],[12.96,0.575],[13.02,0.58],[13.12,0.60],[13.15,0.66],[13.15,0.57],[13.17,0.53],[13.15,0.47],[13.18,0.55],[13.19,0.36],[13.24,0.58],[13.28,0.50],[13.28,0.47],[13.31,0.595],[13.12,0.50],[13.14,0.45]];
const ctrlF2 = [[10.03,0.57],[10.09,0.60],[10.14,0.56],[10.19,0.60],[10.24,0.55],[10.30,0.59],[10.37,0.56],[10.44,0.58],[10.50,0.56],[10.58,0.59],[10.65,0.62],[10.73,0.56],[10.81,0.60],[10.89,0.56],[10.96,0.58],[11.03,0.57],[11.10,0.63]];

// typical half-length of the control error bars, in dex, per group above
const ctrlGroups = [ctrlA, ctrlA2, ctrlA3, ctrlB, ctrlB2, ctrlB3, ctrlC, ctrlC2, ctrlC3, ctrlD, ctrlD2, ctrlD3, ctrlE, ctrlE2, ctrlE3, ctrlF, ctrlF2];
const ctrlErrDex = [0.05, 0.05, 0.05, 0.05, 0.05, 0.05, 0.045, 0.045, 0.045, 0.04, 0.04, 0.04, 0.04, 0.04, 0.04, 0.05, 0.05];

const BLUE = "rgba(30,144,255,0.92)";
const BLUE_ERR = "rgba(30,144,255,0.22)";
const RED = "#b22222";
const RED_ERR = "rgba(178,34,34,0.24)";
const MARKER_R = 11;

const errPlugin = {
  id: "errbars",
  beforeDatasetDraw(chart: any, args: any) {
    const ds = chart.data.datasets[args.index];
    const bars = ds.errBars;
    if (!bars) return;
    const { ctx, chartArea: a, scales } = chart;
    const xs = scales.x, ys = scales.y;
    ctx.save();
    ctx.beginPath();
    ctx.rect(a.left, a.top, a.right - a.left, a.bottom - a.top);
    ctx.clip();
    ctx.strokeStyle = ds.errColor;
    ctx.lineWidth = 2.8;
    for (const b of bars) {
      const px = xs.getPixelForValue(b[0]);
      ctx.beginPath();
      ctx.moveTo(px, ys.getPixelForValue(b[1]));
      ctx.lineTo(px, ys.getPixelForValue(b[2]));
      ctx.stroke();
    }
    ctx.restore();
  },
};

const framePlugin = {
  id: "frame",
  afterDraw(chart: any) {
    const { ctx, chartArea: a, scales } = chart;
    const ys = scales.y;
    ctx.save();
    // minor ticks
    ctx.strokeStyle = "#000";
    ctx.lineWidth = 1.7;
    for (const v of yMinorValues) {
      if (v < Y_MIN || v > Y_MAX) continue;
      const py = Math.round(ys.getPixelForValue(v)) + 0.5;
      ctx.beginPath();
      ctx.moveTo(a.left - 6, py);
      ctx.lineTo(a.left, py);
      ctx.stroke();
    }
    // frame
    ctx.lineWidth = 2.3;
    ctx.strokeRect(a.left, a.top, a.right - a.left, a.bottom - a.top);

    // y tick labels: 10 with a raised exponent
    ctx.fillStyle = "#000";
    ctx.textAlign = "right";
    ctx.textBaseline = "alphabetic";
    yTickValues.forEach((v, i) => {
      const py = ys.getPixelForValue(v);
      const rx = a.left - 14;
      ctx.font = `42px ${FONT}`;
      const we = ctx.measureText(yTickExponents[i]).width;
      ctx.fillText(yTickExponents[i], rx, py + 4);
      ctx.font = `62px ${FONT}`;
      ctx.fillText("10", rx - we - 1, py + 23);
    });

    // y title
    ctx.save();
    ctx.translate(120, (a.top + a.bottom) / 2);
    ctx.rotate(-Math.PI / 2);
    ctx.textBaseline = "alphabetic";
    ctx.font = `62px ${FONT}`;
    const w1 = ctx.measureText(yTitleMain).width;
    ctx.font = `italic 62px ${FONT}`;
    const w2 = ctx.measureText(yTitleGreek).width;
    const start = -(w1 + w2) / 2;
    ctx.font = `62px ${FONT}`;
    ctx.textAlign = "left";
    ctx.fillText(yTitleMain, start, 0);
    ctx.font = `italic 62px ${FONT}`;
    ctx.fillText(yTitleGreek, start + w1, 0);
    ctx.restore();

    // legend
    const lx = 1470, ly = 67, lw = 702, lh = 199;
    ctx.beginPath();
    if ((ctx as any).roundRect) (ctx as any).roundRect(lx, ly, lw, lh, 9);
    else ctx.rect(lx, ly, lw, lh);
    ctx.fillStyle = "rgba(255,255,255,0.8)";
    ctx.fill();
    ctx.strokeStyle = "#d0d0d0";
    ctx.lineWidth = 2;
    ctx.stroke();
    const colors = [BLUE, RED];
    const baselines = [134, 230];
    const markerY = [121, 214];
    ctx.font = `62px ${FONT}`;
    ctx.textBaseline = "alphabetic";
    ctx.textAlign = "left";
    for (let i = 0; i < legendLabels.length; i++) {
      ctx.fillStyle = colors[i];
      ctx.fillRect(1557 - 5, markerY[i] - 5, 10, 10);
      ctx.fillStyle = "#000";
      ctx.fillText(legendLabels[i], 1666, baselines[i]);
    }
    ctx.restore();
  },
};

export default function App() {
  const ref = useRef<HTMLCanvasElement | null>(null);
  useEffect(() => {
    const canvas = ref.current;
    if (!canvas) return;
    const ctrlData: any[] = [];
    const ctrlBars: any[] = [];
    ctrlGroups.forEach((g, gi) => {
      const f = Math.pow(10, ctrlErrDex[gi]);
      for (const p of g) {
        ctrlData.push({ x: p[0], y: p[1] });
        ctrlBars.push([p[0], p[1] / f, p[1] * f]);
      }
    });
    const snrData = snrX.map((x, i) => ({ x, y: snrY[i] }));
    const snrBars = snrX.map((x, i) => [x, snrLo[i], snrHi[i]]);

    const tickFont = { family: FONT, size: 62 };
    // dataset 0 is painted last, so the SNRs sit on top of the control cloud
    const chart = new Chart(canvas, {
      type: "scatter",
      data: {
        datasets: [
          {
            label: legendLabels[1],
            data: snrData,
            pointStyle: "rect",
            pointRadius: MARKER_R,
            pointHoverRadius: MARKER_R,
            backgroundColor: RED,
            borderWidth: 0,
            errBars: snrBars,
            errColor: RED_ERR,
          } as any,
          {
            label: legendLabels[0],
            data: ctrlData,
            pointStyle: "rect",
            pointRadius: MARKER_R,
            pointHoverRadius: MARKER_R,
            backgroundColor: BLUE,
            borderWidth: 0,
            errBars: ctrlBars,
            errColor: BLUE_ERR,
          } as any,
        ],
      },
      options: {
        responsive: false,
        animation: false,
        events: [],
        layout: { padding: { left: 0, top: 31, right: 28, bottom: 0 } },
        plugins: { legend: { display: false }, tooltip: { enabled: false } },
        scales: {
          x: {
            type: "linear",
            min: X_MIN,
            max: X_MAX,
            afterBuildTicks: (s: any) => {
              s.ticks = xTickValues.map((v) => ({ value: v }));
            },
            afterFit: (s: any) => {
              s.height = 152;
            },
            grid: { drawOnChartArea: false, drawTicks: true, tickLength: 10, color: "#000", lineWidth: 2.3 },
            border: { display: false },
            ticks: { font: tickFont, color: "#000", padding: 6, maxRotation: 0, autoSkip: false },
            title: { display: true, text: xTitle, font: { family: FONT, size: 62, lineHeight: 1.13 }, color: "#000", padding: { top: 0, bottom: 0 } },
          },
          y: {
            type: "logarithmic",
            min: Y_MIN,
            max: Y_MAX,
            afterBuildTicks: (s: any) => {
              s.ticks = yTickValues.map((v) => ({ value: v }));
            },
            afterFit: (s: any) => {
              s.width = 306;
            },
            grid: { drawOnChartArea: false, drawTicks: true, tickLength: 10, color: "#000", lineWidth: 2.3 },
            border: { display: false },
            ticks: { display: false },
          },
        },
      } as any,
      plugins: [errPlugin, framePlugin],
    });
    return () => chart.destroy();
  }, []);

  return (
    <div style={{ position: "absolute", left: 0, top: 0, width: 2233, height: 1445, background: "#fff", overflow: "hidden" }}>
      <canvas ref={ref} width={2233} height={1445} style={{ position: "absolute", left: 0, top: 0, width: 2233, height: 1445 }} />
      {pageLines.map((t, k) =>
        t ? (
          <div
            key={k}
            style={{ position: "absolute", left: 0, top: 40 + 102.1 * k - 47, width: 38, height: 100, overflow: "hidden" }}
          >
            <span
              style={{ position: "absolute", right: 0, top: 0, whiteSpace: "nowrap", fontFamily: FONT, fontSize: 80, lineHeight: "80px", color: "#000" }}
            >
              {t}
            </span>
          </div>
        ) : null
      )}
    </div>
  );
}
